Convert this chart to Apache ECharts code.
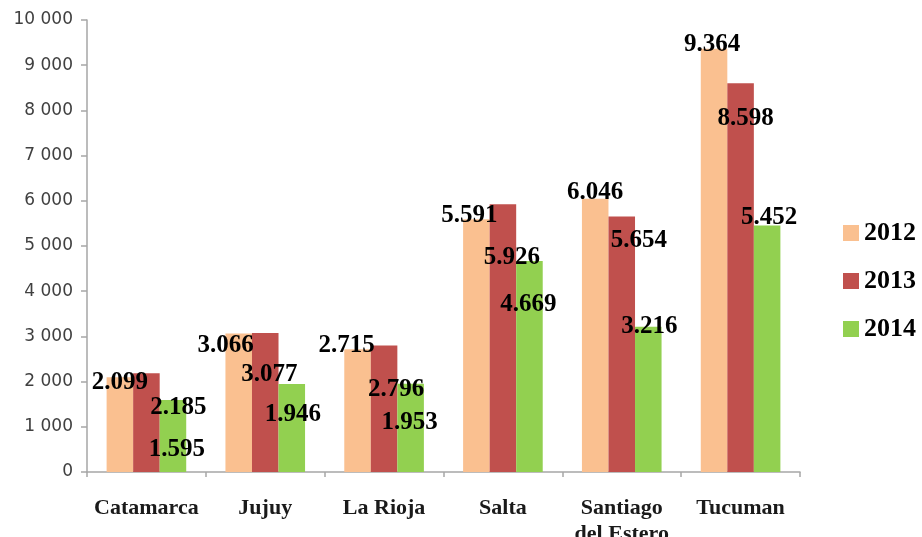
<!DOCTYPE html>
<html>
<head>
<meta charset="utf-8">
<script src="https://cdn.jsdelivr.net/npm/echarts@6/dist/echarts.min.js"></script>
<style>html,body{margin:0;padding:0;background:#fff;}#c{width:922px;height:537px;}</style>
</head>
<body>
<div id="c"></div>
<script>
const categories = ['Catamarca', 'Jujuy', 'La Rioja', 'Salta', 'Santiago\ndel Estero', 'Tucuman'];
const seriesNames = ['2012', '2013', '2014'];
const values2012 = [2099, 3066, 2715, 5591, 6046, 9364];
const values2013 = [2185, 3077, 2796, 5926, 5654, 8598];
const values2014 = [1595, 1946, 1953, 4669, 3216, 5452];
const yTicks = [0, 1000, 2000, 3000, 4000, 5000, 6000, 7000, 8000, 9000, 10000];

// label placement (style), as displaced in the original picture
const labelShift2012 = [[0, 5], [-13, 12], [-11, -4], [-7, -4], [0, -6], [-2, -4]];
const labelShift2013 = [[32, 34], [4, 42], [12, 44], [9, 53], [17, 24], [5, 35]];
const labelShift2014 = [[4, 50], [1, 31], [-1, 39], [-1, 44], [1, 0], [2, -8]];

const colors = ['#FAC090', '#C0504D', '#92D050'];

function fmtLabel(v) {
  const t = Math.floor(v / 1000), r = v % 1000;
  return t + '.' + String(r).padStart(3, '0');
}
function fmtAxis(v) {
  if (v === 0) return '0';
  const t = Math.floor(v / 1000), r = v % 1000;
  return t + ' ' + String(r).padStart(3, '0');
}
function build(vals, shifts) {
  return vals.map((v, i) => ({ value: v, label: { offset: shifts[i] } }));
}
const labelStyle = {
  show: true,
  position: ['50%', 0],
  align: 'center',
  verticalAlign: 'middle',
  fontFamily: 'Liberation Serif',
  fontWeight: 'bold',
  fontSize: 25,
  color: '#000',
  formatter: p => fmtLabel(p.value)
};
const chart = echarts.init(document.getElementById('c'));
chart.setOption({
  animation: false,
  backgroundColor: '#fff',
  color: colors,
  grid: { left: 87, right: 122, top: 20, bottom: 65, containLabel: false, outerBoundsMode: 'none' },
  legend: {
    orient: 'vertical',
    left: 843,
    top: 219,
    padding: 0,
    itemWidth: 16,
    itemHeight: 16,
    itemGap: 20,
    icon: 'rect',
    data: seriesNames,
    textStyle: { fontFamily: 'Liberation Serif', fontWeight: 'bold', fontSize: 26, lineHeight: 28, color: '#000' }
  },
  xAxis: {
    type: 'category',
    data: categories,
    axisLine: { lineStyle: { color: '#a6a6a6', width: 1.5 } },
    axisTick: { show: true, length: 5, lineStyle: { color: '#a6a6a6', width: 1.5 } },
    axisLabel: { margin: 23, fontFamily: 'Liberation Serif', fontWeight: 'bold', fontSize: 22, lineHeight: 26, color: '#1a1a1a', interval: 0 }
  },
  yAxis: {
    type: 'value',
    min: yTicks[0],
    max: yTicks[yTicks.length - 1],
    interval: 1000,
    axisLine: { show: true, lineStyle: { color: '#a6a6a6', width: 1.5 } },
    axisTick: { show: true, length: 6, lineStyle: { color: '#a6a6a6', width: 1.5 } },
    splitLine: { show: false },
    axisLabel: { margin: 14, fontFamily: 'DejaVu Sans', fontSize: 17, color: '#404040', formatter: fmtAxis }
  },
  series: [
    { name: seriesNames[0], type: 'bar', barGap: '0%', barCategoryGap: '33%', data: build(values2012, labelShift2012), label: labelStyle },
    { name: seriesNames[1], type: 'bar', barGap: '0%', barCategoryGap: '33%', data: build(values2013, labelShift2013), label: labelStyle },
    { name: seriesNames[2], type: 'bar', barGap: '0%', barCategoryGap: '33%', data: build(values2014, labelShift2014), label: labelStyle }
  ]
});
</script>
</body>
</html>
